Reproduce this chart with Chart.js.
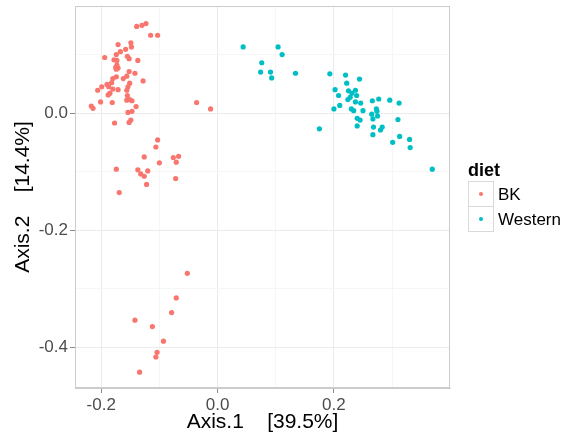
<!DOCTYPE html>
<html>
<head>
<meta charset="utf-8">
<script src="https://cdn.jsdelivr.net/npm/chart.js@4/dist/chart.umd.min.js"></script>
<style>
  body { margin: 0; background: #fff; }
  #wrap { position: relative; width: 569px; height: 443px; }
  #legend { position: absolute; left: 468px; top: 160px; font-family: 'Liberation Sans', Arial, sans-serif; color: #000; }
  #legend .ttl { font-weight: bold; font-size: 18px; line-height: 20px; height: 20px; margin-bottom: 2px; }
  #legend .row { display: flex; align-items: center; height: 25px; }
  #legend .key { width: 24px; height: 24px; border: 1px solid #d9d9d9; margin-top: -1px; position: relative; }
  #legend .row:first-of-type .key { margin-top: 0; }
  #legend .dot { position: absolute; left: 10px; top: 10px; width: 4px; height: 4px; border-radius: 50%; }
  #legend .lbl { font-size: 17px; margin-left: 4px; }
</style>
</head>
<body>
<div id="wrap">
  <canvas id="c" width="569" height="443"></canvas>
  <div id="legend"></div>
</div>
<script>
const groupTitle = 'diet';
const seriesNames = ['BK', 'Western'];
const seriesColors = ['#F8766D', '#00BFC4'];

// BK samples [Axis.1, Axis.2]
const bkPoints = [
  [-0.139, 0.148], [-0.130, 0.150], [-0.123, 0.153], [-0.115, 0.133], [-0.103, 0.133],
  [-0.171, 0.117], [-0.149, 0.120], [-0.148, 0.113], [-0.158, 0.109], [-0.167, 0.105],
  [-0.174, 0.100], [-0.194, 0.095], [-0.155, 0.097], [-0.152, 0.093], [-0.137, 0.090],
  [-0.178, 0.091], [-0.173, 0.090], [-0.173, 0.082], [-0.175, 0.078], [-0.171, 0.077],
  [-0.174, 0.075], [-0.152, 0.071], [-0.142, 0.068], [-0.156, 0.063], [-0.162, 0.059],
  [-0.174, 0.062], [-0.180, 0.059], [-0.128, 0.055], [-0.151, 0.051], [-0.182, 0.052],
  [-0.190, 0.049], [-0.199, 0.045], [-0.187, 0.045], [-0.154, 0.045], [-0.206, 0.039],
  [-0.180, 0.041], [-0.171, 0.040], [-0.156, 0.039], [-0.185, 0.034], [-0.188, 0.031],
  [-0.155, 0.030], [-0.201, 0.019], [-0.181, 0.018], [-0.156, 0.022], [-0.151, 0.023],
  [-0.147, 0.021], [-0.217, 0.012], [-0.214, 0.008], [-0.140, 0.011], [-0.147, 0.003],
  [-0.154, 0.001], [-0.177, -0.017], [-0.149, -0.012], [-0.152, -0.016],
  [-0.036, 0.018], [-0.012, 0.007],
  [-0.103, -0.046], [-0.106, -0.058], [-0.126, -0.075], [-0.076, -0.076], [-0.067, -0.074],
  [-0.100, -0.085], [-0.071, -0.084], [-0.174, -0.096], [-0.137, -0.097], [-0.120, -0.099],
  [-0.132, -0.104], [-0.126, -0.108], [-0.072, -0.112], [-0.122, -0.122], [-0.169, -0.136],
  [-0.052, -0.274], [-0.071, -0.316], [-0.079, -0.341], [-0.142, -0.354], [-0.112, -0.365],
  [-0.093, -0.390], [-0.104, -0.409], [-0.106, -0.417], [-0.134, -0.443]
];

// Western samples [Axis.1, Axis.2]
const westernPoints = [
  [0.044, 0.113], [0.104, 0.113], [0.111, 0.100], [0.076, 0.086], [0.074, 0.070],
  [0.091, 0.070], [0.093, 0.060], [0.134, 0.068], [0.193, 0.067], [0.220, 0.065],
  [0.244, 0.058], [0.222, 0.051], [0.202, 0.040], [0.225, 0.038], [0.237, 0.039],
  [0.208, 0.030], [0.231, 0.034], [0.239, 0.030], [0.224, 0.023], [0.228, 0.027],
  [0.237, 0.019], [0.246, 0.017], [0.210, 0.013], [0.200, 0.007], [0.230, 0.007],
  [0.234, 0.004], [0.250, 0.004], [0.266, 0.021], [0.277, 0.024], [0.296, 0.022],
  [0.312, 0.017], [0.273, 0.007], [0.265, -0.002], [0.274, 0.003], [0.275, -0.005],
  [0.267, -0.010], [0.240, -0.009], [0.245, -0.012], [0.310, -0.011], [0.240, -0.022],
  [0.175, -0.027], [0.268, -0.024], [0.283, -0.024], [0.280, -0.029], [0.267, -0.037],
  [0.313, -0.040], [0.330, -0.045], [0.301, -0.050], [0.331, -0.059], [0.369, -0.096]
];

const xMajor = [-0.2, 0.0, 0.2];
const xMinor = [-0.1, 0.1, 0.3];
const xTickLabels = ['-0.2', '0.0', '0.2'];
const yMajor = [-0.4, -0.2, 0.0];
const yMinor = [-0.3, -0.1, 0.1];
const yTickLabels = ['-0.4', '-0.2', '0.0'];

const xTitle = 'Axis.1    [39.5%]';
const yTitle = 'Axis.2    [14.4%]';

const FONT = "'Liberation Sans', Arial, sans-serif";

const toXY = pts => pts.map(p => ({ x: p[0], y: p[1] }));

const isMajor = (list, v) => list.some(m => Math.abs(m - v) < 1e-9);

const axisOpts = (major, minor, labels, min, max) => ({
  type: 'linear',
  min: min,
  max: max,
  afterBuildTicks: (scale) => {
    scale.ticks = major.concat(minor).sort((a, b) => a - b).map(v => ({ value: v }));
  },
  ticks: {
    autoSkip: false,
    maxRotation: 0,
    padding: 2,
    color: '#4d4d4d',
    font: { family: FONT, size: 17 },
    callback: (v) => {
      const i = major.findIndex(m => Math.abs(m - v) < 1e-9);
      return i >= 0 ? labels[i] : '';
    }
  },
  grid: {
    color: (ctx) => isMajor(major, ctx.tick.value) ? '#ebebeb' : '#f6f6f6',
    tickColor: (ctx) => isMajor(major, ctx.tick.value) ? '#8c8c8c' : 'rgba(0,0,0,0)',
    tickLength: 5,
    lineWidth: 1
  },
  border: { display: true, color: '#cccccc' }
});

// top and right side of the panel border
const panelBorder = {
  id: 'panelBorder',
  beforeDatasetsDraw(chart) {
    const { ctx, chartArea: a } = chart;
    ctx.save();
    ctx.strokeStyle = '#cccccc';
    ctx.lineWidth = 1;
    ctx.strokeRect(a.left + 0.5, a.top + 0.5, a.right - a.left - 1, a.bottom - a.top - 1);
    ctx.restore();
  }
};

const xScale = axisOpts(xMajor, xMinor, xTickLabels, -0.245, 0.3995);
xScale.title = { display: true, text: xTitle, color: '#000', font: { family: FONT, size: 21 }, padding: { top: 0, bottom: 8 } };
xScale.afterFit = (s) => { s.height = 55; s.paddingLeft = 0; s.paddingRight = 0; };

const yScale = axisOpts(yMajor, yMinor, yTickLabels, -0.470, 0.183);
yScale.title = { display: true, text: yTitle, color: '#000', font: { family: FONT, size: 21 }, padding: { top: 11, bottom: 0 } };
yScale.afterFit = (s) => { s.width = 75; s.paddingTop = 0; s.paddingBottom = 0; };

new Chart(document.getElementById('c'), {
  type: 'scatter',
  data: {
    datasets: [
      { label: seriesNames[0], data: toXY(bkPoints), backgroundColor: seriesColors[0], borderWidth: 0, pointRadius: 2.6 },
      { label: seriesNames[1], data: toXY(westernPoints), backgroundColor: seriesColors[1], borderWidth: 0, pointRadius: 2.6 }
    ]
  },
  options: {
    responsive: false,
    animation: false,
    events: [],
    layout: { padding: { top: 6, right: 119, left: 0, bottom: 0 } },
    plugins: { legend: { display: false }, tooltip: { enabled: false } },
    scales: { x: xScale, y: yScale }
  },
  plugins: [panelBorder]
});

// legend
const legend = document.getElementById('legend');
const ttl = document.createElement('div');
ttl.className = 'ttl';
ttl.textContent = groupTitle;
legend.append(ttl);
seriesNames.forEach((name, i) => {
  const row = document.createElement('div');
  row.className = 'row';
  row.innerHTML = '<div class="key"><div class="dot" style="background:' + seriesColors[i] + '"></div></div><div class="lbl">' + name + '</div>';
  legend.append(row);
});
</script>
</body>
</html>
